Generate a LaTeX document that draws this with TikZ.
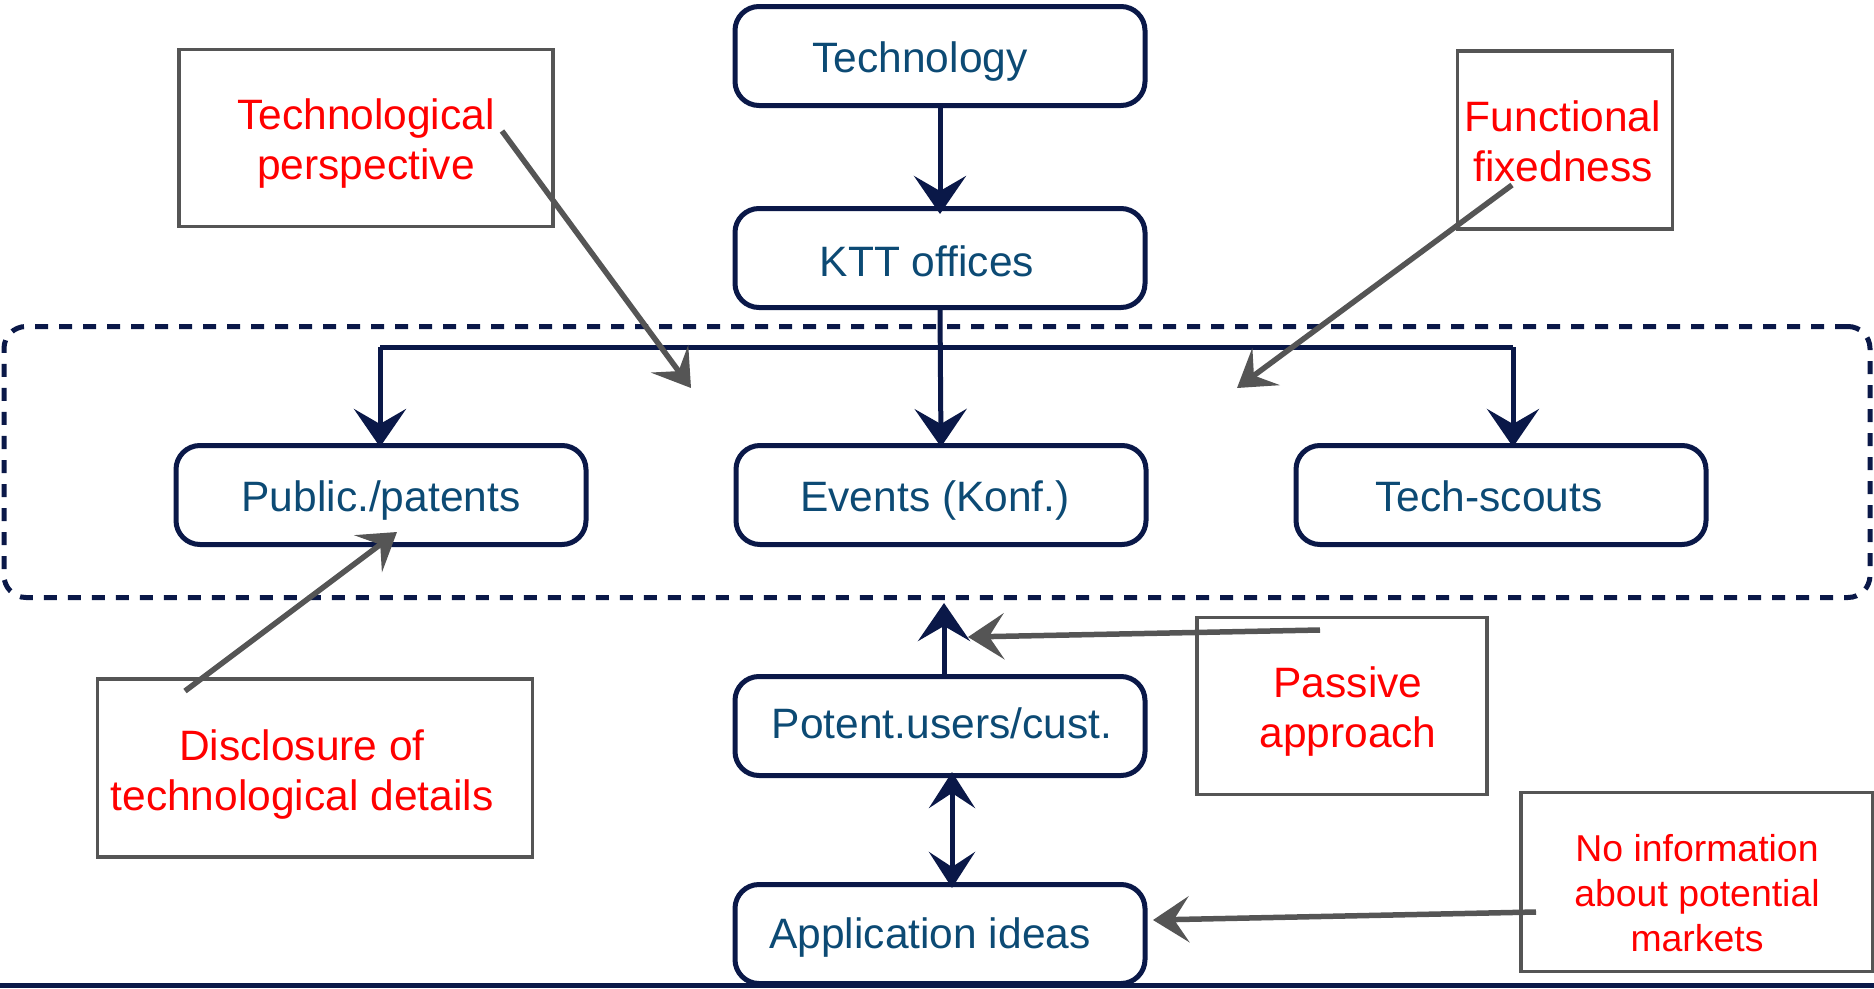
\documentclass[tikz,border=0pt]{standalone}
\usepackage{fontspec}
\setmainfont{Liberation Sans}
\usetikzlibrary{arrows.meta}
\definecolor{navy}{RGB}{10,24,72}
\definecolor{navytext}{RGB}{12,74,116}
\definecolor{sketchgrey}{RGB}{85,85,85}
\definecolor{notered}{RGB}{255,0,0}
\newcommand{\fltext}[3]{\raisebox{#2}[\height][\depth]{#3}\hspace*{#1}}
\begin{document}
\begin{tikzpicture}[x=1pt,y=-1pt,
  flowbox/.style={draw=navy, line width=5pt, rounded corners=24pt, minimum width=410pt,
    minimum height=99pt, text=navytext, font=\fontsize{42.5}{50}\selectfont, inner sep=0pt},
  notebox/.style={draw=sketchgrey, line width=3.5pt, inner sep=0pt},
  notetext/.style={text=notered, font=\fontsize{42.5}{50}\selectfont, align=center, inner sep=0pt},
  smalltext/.style={notetext, font=\fontsize{37.4}{45}\selectfont},
  flowarrow/.style={draw=navy, line width=5pt, -{Stealth[length=38pt,width=52pt,inset=15pt]}},
  twoarrow/.style={draw=navy, line width=5pt, {Stealth[length=36pt,width=46pt,inset=15pt]}-{Stealth[length=36pt,width=46pt,inset=15pt]}},
  notearrow/.style={draw=sketchgrey, line width=5.5pt, -{Stealth[length=36pt,width=46pt,inset=15pt]}},
  groupline/.style={draw=navy, line width=5pt, dash pattern=on 13pt off 11pt, rounded corners=22pt}
]
\useasboundingbox (0,0) rectangle (1874,988);

% group frame
\node[groupline, minimum width=1866pt, minimum height=271pt, inner sep=0pt] (group) at (937,462) {};

% flow boxes
\node[flowbox] (tech) at (940,56) {\fltext{40pt}{-5.8pt}{Technology}};
\node[flowbox] (ktt) at (940,258) {\fltext{26pt}{-3.4pt}{KTT offices}};
\node[flowbox] (pub) at (381,495) {\fltext{0pt}{-5.8pt}{Public./patents}};
\node[flowbox] (events) at (941,495) {\fltext{12pt}{-5.8pt}{Events (Konf.)}};
\node[flowbox] (scouts) at (1501,495) {\fltext{24pt}{-1pt}{Tech-scouts}};
\node[flowbox] (potent) at (940,726) {\fltext{-4pt}{2.6pt}{Potent.users/cust.}};
\node[flowbox] (app) at (940,934) {\fltext{20pt}{-3.4pt}{Application ideas}};

% bottom rule
\coordinate (rulel) at (0,985);
\coordinate (ruler) at (1874,985);
\draw[navy, line width=5pt] (rulel) -- (ruler);

% note boxes
\node[notebox, minimum width=374pt, minimum height=177pt] (tp) at (366,138) {};
\node[notetext] (tptext) at ([yshift=-6pt]tp.center) {Technological\\perspective};
\node[notebox, minimum width=215pt, minimum height=178pt] (ff) at (1565,140) {};
\node[notetext] (fftext) at ([xshift=-2pt,yshift=-1pt]ff.center) {Functional\\fixedness};
\node[notebox, minimum width=435pt, minimum height=178pt] (dis) at (315,768) {};
\node[notetext] (distext) at ([xshift=-13pt,yshift=-7pt]dis.center) {Disclosure of\\technological details};
\node[notebox, minimum width=290pt, minimum height=177pt] (pas) at (1342,706) {};
\node[notetext] (pastext) at ([xshift=6pt,yshift=-6pt]pas.center) {Passive\\approach};
\node[notebox, minimum width=352pt, minimum height=179pt] (noinfo) at (1697,882) {};
\node[smalltext] (noinfotext) at ([yshift=-11pt]noinfo.center) {No information\\about potential\\markets};

% flow connectors
\draw[flowarrow] (tech.south) -- ([yshift=-8pt]ktt.north);
\coordinate (lefttop) at (380,347);
\coordinate (righttop) at (1513,347);
\draw[navy, line width=5pt] (lefttop) -- (righttop);
\draw[flowarrow] (ktt.south) -- ([yshift=-4pt]events.north);
\draw[flowarrow] (lefttop) -- ([yshift=-4pt]lefttop |- pub.north);
\draw[flowarrow] (righttop) -- ([yshift=-4pt]righttop |- scouts.north);
\coordinate (uptip) at (944,603);
\draw[flowarrow] (uptip |- potent.north) -- (uptip);
\draw[twoarrow] ([xshift=12pt,yshift=6pt]potent.south) -- ([xshift=12pt,yshift=-6pt]app.north);

% note arrows
\coordinate (tpstart) at (502,131);
\coordinate (tpend) at (691,388);
\coordinate (ffstart) at (1512,185);
\coordinate (ffend) at (1237,388);
\coordinate (disstart) at (185,691);
\coordinate (disend) at (397,532);
\coordinate (passtart) at (1320,630);
\coordinate (pasend) at (968,637);
\coordinate (nistart) at (1536,912);
\coordinate (niend) at (1153,920);
\draw[notearrow] (tpstart) -- (tpend);
\draw[notearrow] (ffstart) -- (ffend);
\draw[notearrow] (disstart) -- (disend);
\draw[notearrow] (passtart) -- (pasend);
\draw[notearrow] (nistart) -- (niend);
\end{tikzpicture}
\end{document}
